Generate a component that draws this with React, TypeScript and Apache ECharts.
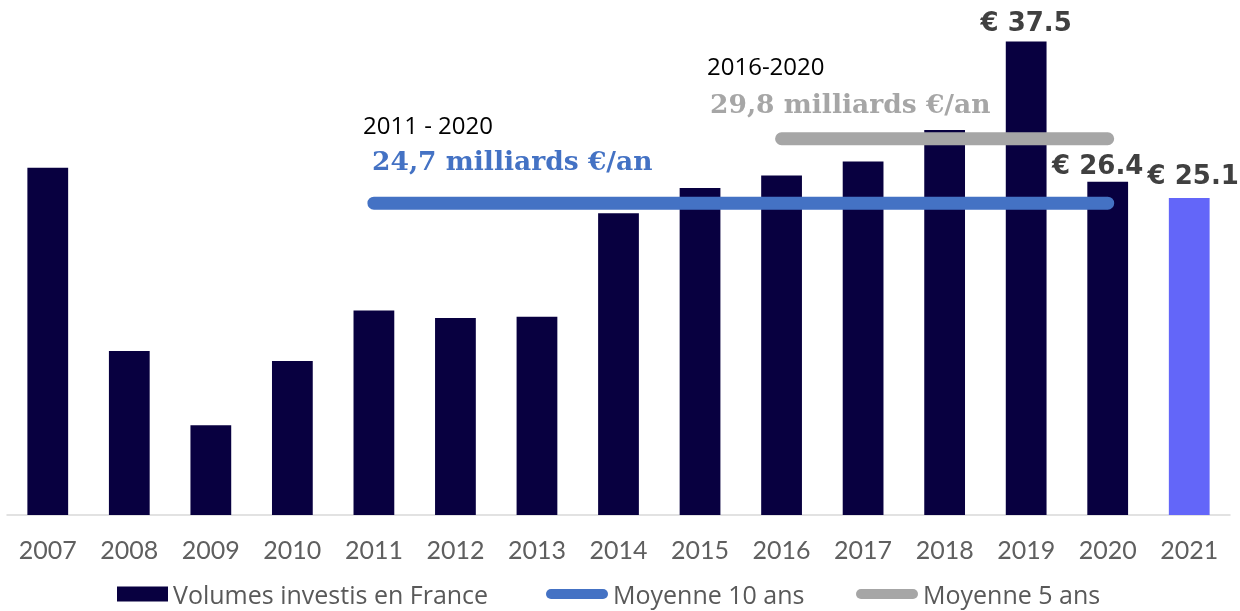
import React, { useEffect, useRef } from "react";
import * as echarts from "echarts";

const years = ["2007", "2008", "2009", "2010", "2011", "2012", "2013", "2014", "2015", "2016", "2017", "2018", "2019", "2020", "2021"];
const volumes = [27.5, 13.0, 7.1, 12.2, 16.2, 15.6, 15.7, 23.9, 25.9, 26.9, 28.0, 30.5, 37.5, 26.4, 25.1];
const avg10 = [null, null, null, null, 24.7, 24.7, 24.7, 24.7, 24.7, 24.7, 24.7, 24.7, 24.7, 24.7, null];
const avg5 = [null, null, null, null, null, null, null, null, null, 29.8, 29.8, 29.8, 29.8, 29.8, null];
const labelledYears = ["2019", "2020", "2021"];

const NAVY = "#080040";
const LIGHT = "#6366F9";
const BLUE = "#4472C4";
const GREY = "#A6A6A6";
const PILL = "path://M5,0 H57 A5,5 0 0 1 57,10 H5 A5,5 0 0 1 5,0 Z";

export default function App() {
  const ref = useRef<HTMLDivElement>(null);
  useEffect(() => {
    if (!ref.current) return;
    const chart = echarts.init(ref.current, null, { renderer: "svg" });
    const labelTweaks: Record<string, any> = {
      "2019": { distance: 7, offset: [0, 0] },
      "2020": { distance: 4, offset: [-10, 0] },
      "2021": { distance: 10, offset: [4, 0] },
    };
    const barData = volumes.map((v, i) => {
      const y = years[i];
      const item: any = { value: v };
      if (y === "2021") item.itemStyle = { color: LIGHT };
      if (labelledYears.includes(y)) {
        item.label = {
          show: true,
          position: "top",
          formatter: (p: any) => "€ " + p.value,
          fontFamily: "DejaVu Sans",
          fontWeight: "bold",
          fontSize: 26,
          color: "#404040",
          ...labelTweaks[y],
        };
      }
      return item;
    });
    const serifStyle = { fontFamily: "DejaVu Serif", fontWeight: "bold", fontSize: 26.5 };
    const legendText = { fontSize: 25, lineHeight: 26, color: "#595959", fontFamily: "Open Sans" };
    chart.setOption({
      animation: false,
      grid: { left: 7, right: 10, top: 10, bottom: 96, containLabel: false },
      xAxis: {
        type: "category",
        data: years,
        axisLine: { lineStyle: { color: "#D9D9D9", width: 1.5 } },
        axisTick: { show: false },
        axisLabel: { color: "#5F5F5F", fontSize: 25, fontFamily: "Lato", margin: 21 },
      },
      yAxis: { type: "value", min: 0, max: 40, show: false, splitLine: { show: false } },
      legend: [
        {
          left: 117, top: 581, padding: 0, itemWidth: 51, itemHeight: 15, itemGap: 0,
          data: [{ name: "Volumes investis en France", icon: "rect" }],
          textStyle: legendText,
        },
        {
          left: 546, top: 581, padding: 0, itemWidth: 62, itemHeight: 10, itemGap: 0,
          data: [{ name: "Moyenne 10 ans", icon: PILL }],
          textStyle: legendText,
        },
        {
          left: 856, top: 581, padding: 0, itemWidth: 62, itemHeight: 10, itemGap: 0,
          data: [{ name: "Moyenne 5 ans", icon: PILL }],
          textStyle: legendText,
        },
      ],
      graphic: [
        { type: "text", x: 363, y: 124, style: { text: "2011 - 2020", fill: "#000", fontSize: 24, fontFamily: "Open Sans", verticalAlign: "middle" } },
        { type: "text", x: 372, y: 160, style: { text: "24,7 milliards €/an", fill: BLUE, ...serifStyle, verticalAlign: "middle" } },
        { type: "text", x: 707, y: 65, style: { text: "2016-2020", fill: "#000", fontSize: 24, fontFamily: "Open Sans", verticalAlign: "middle" } },
        { type: "text", x: 710, y: 103, style: { text: "29,8 milliards €/an", fill: GREY, ...serifStyle, verticalAlign: "middle" } },
      ],
      series: [
        {
          name: "Volumes investis en France",
          type: "bar",
          data: barData,
          barWidth: "50%",
          itemStyle: { color: NAVY },
          z: 2,
        },
        {
          name: "Moyenne 10 ans",
          type: "line",
          data: avg10,
          showSymbol: false,
          symbol: "none",
          itemStyle: { color: BLUE },
          lineStyle: { color: BLUE, width: 13, cap: "round" },
          z: 3,
        },
        {
          name: "Moyenne 5 ans",
          type: "line",
          data: avg5,
          showSymbol: false,
          symbol: "none",
          itemStyle: { color: GREY },
          lineStyle: { color: GREY, width: 13, cap: "round" },
          z: 3,
        },
      ],
    });
    return () => chart.dispose();
  }, []);
  return <div ref={ref} style={{ position: "fixed", left: 0, top: 0, width: 1240, height: 611 }} />;
}
